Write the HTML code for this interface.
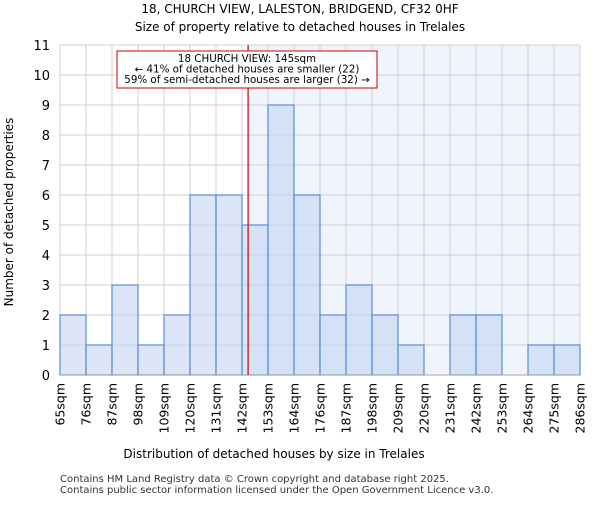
<!DOCTYPE html>
<html><head><meta charset="utf-8"><style>
body{margin:0;background:#fff;font-family:"Liberation Sans","DejaVu Sans",sans-serif}
</style></head><body>
<svg id="chart" width="600" height="500" xmlns="http://www.w3.org/2000/svg" font-family="DejaVu Sans, Liberation Sans, sans-serif">
<text x="300" y="13" text-anchor="middle" font-size="12">18, CHURCH VIEW, LALESTON, BRIDGEND, CF32 0HF</text>
<text x="300" y="31" text-anchor="middle" font-size="12">Size of property relative to detached houses in Trelales</text>
<g id="plot"></g>
<text x="274" y="458" text-anchor="middle" font-size="12">Distribution of detached houses by size in Trelales</text>
<text transform="translate(13,212) rotate(-90)" text-anchor="middle" font-size="12">Number of detached properties</text>
<text x="60" y="482" font-size="10" fill="#333">Contains HM Land Registry data © Crown copyright and database right 2025.</text>
<text x="60" y="493" font-size="10" fill="#333">Contains public sector information licensed under the Open Government Licence v3.0.</text>
</svg>
<script>
const binLabels=["65sqm","76sqm","87sqm","98sqm","109sqm","120sqm","131sqm","142sqm","153sqm","164sqm","176sqm","187sqm","198sqm","209sqm","220sqm","231sqm","242sqm","253sqm","264sqm","275sqm","286sqm"];
const binEdges=[65,76,87,98,109,120,131,142,153,164,176,187,198,209,220,231,242,253,264,275,286];
const counts=[2,1,3,1,2,6,6,5,9,6,2,3,2,1,0,2,2,0,1,1];
const yTicks=[0,1,2,3,4,5,6,7,8,9,10,11];
const propertySize=145;
const NS="http://www.w3.org/2000/svg";
const L=60,R=580,T=45,B=375,yMax=11;
const n=counts.length,bw=(R-L)/n;
const xi=i=>L+i*bw;
const xv=v=>{let i=0;while(i<binEdges.length-2&&v>binEdges[i+1])i++;return xi(i)+(v-binEdges[i])/(binEdges[i+1]-binEdges[i])*bw;};
const y=v=>B-v/yMax*(B-T);
const g=document.getElementById('plot');
function mk(t,a,p){const e=document.createElementNS(NS,t);for(const k in a)e.setAttribute(k,a[k]);(p||g).appendChild(e);return e;}
const rx=xv(propertySize)-1;
let e=mk('rect',{x:rx,y:T,width:R-rx,height:B-T,fill:'#f0f4fc'});


for(let i=0;i<=n;i++){e=mk('line',{x1:xi(i),x2:xi(i),y1:T,y2:B,stroke:'#d0d0d0'});

}
yTicks.forEach(t=>{e=mk('line',{x1:L,x2:R,y1:y(t),y2:y(t),stroke:'#d0d0d0'});


e=mk('text',{x:L-10,y:y(t)+5,'text-anchor':'end','font-size':13});e.textContent=t;

});
counts.forEach((c,i)=>{if(c<=0)return;
e=mk('rect',{x:xi(i),y:y(c),width:bw,height:B-y(c),fill:'rgba(195,212,238,0.6)',stroke:'#5a8cd8','stroke-width':1.2});

});
e=mk('line',{x1:L,x2:R,y1:B,y2:B,stroke:'#aaa'});


binLabels.forEach((s,i)=>{e=mk('text',{transform:`translate(${xi(i)+4.5},383) rotate(-90)`,'text-anchor':'end','font-size':12.5});e.textContent=s;

});
e=mk('line',{x1:rx,x2:rx,y1:T,y2:B,stroke:'#cc0000','stroke-width':1.2});


e=mk('rect',{x:117,y:51,width:260,height:37,fill:'#fff',stroke:'#cc0000'});


["18 CHURCH VIEW: 145sqm","← 41% of detached houses are smaller (22)","59% of semi-detached houses are larger (32) →"].forEach((s,k)=>{
e=mk('text',{x:247,y:62+k*10.5,'text-anchor':'middle','font-size':10.3});e.textContent=s;

});
</script>
</body></html>
